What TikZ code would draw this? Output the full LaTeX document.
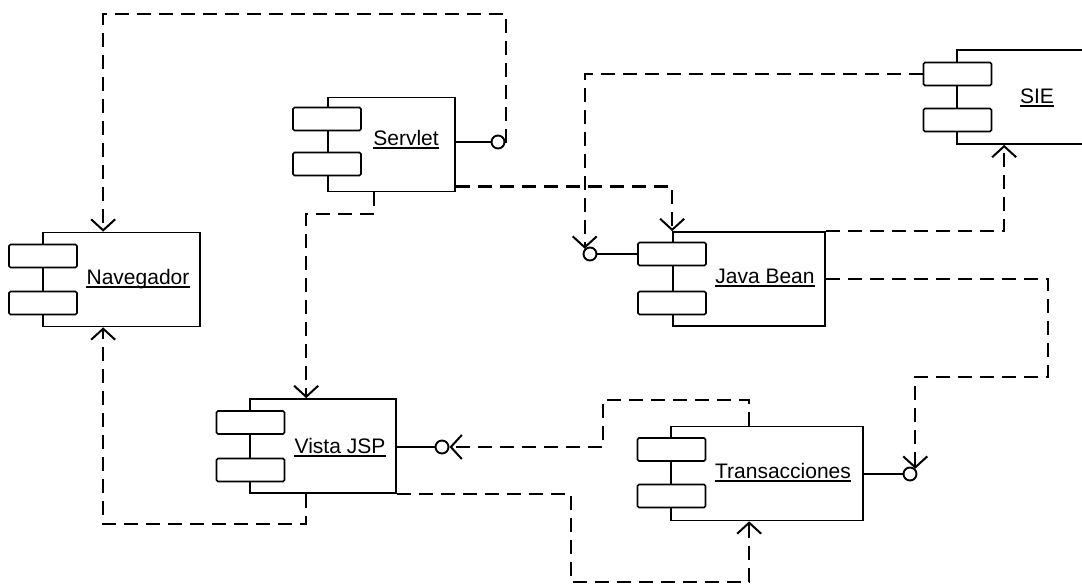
\documentclass[tikz,border=0pt]{standalone}
\usepackage{fontspec}
\setmainfont{Liberation Sans}
\usetikzlibrary{arrows.meta,calc}
\begin{document}
\begin{tikzpicture}[x=1pt,y=-1pt,
  body/.style={draw,line width=1.7pt,inner sep=0pt,minimum width=#1,minimum height=94pt},
  port/.style={draw,line width=1.7pt,fill=white,rounded corners=1.5pt,minimum width=68pt,minimum height=23pt,inner sep=0pt},
  lolli/.style={circle,draw,line width=1.9pt,fill=white,minimum size=13pt,inner sep=0pt},
  lbl/.style={font=\fontsize{21}{24}\selectfont,inner sep=0pt,anchor=base},
  uline/.style={line width=1.6pt},
  wire/.style={line width=1.7pt},
  dep/.style={line width=2.4pt,dash pattern=on 14pt off 8pt},
  arr/.style={-{Straight Barb[length=11pt,width=24pt,line width=2pt]}}
]
\useasboundingbox (0,0) rectangle (1082,587);
\clip (0,0) rectangle (1082,587);
\fill[white] (0,0) rectangle (1082,587);

% components
\node[body=157pt] (nav) at (121.5,279.5) {};
\node[port] (navP1) at (43,256) {};
\node[port] (navP2) at (43,303) {};
\node[lbl] (tnav) at (138,284) {Navegador};

\node[body=127pt] (srv) at (391.5,144.5) {};
\node[port] (srvP1) at (327,119) {};
\node[port] (srvP2) at (327,164) {};
\node[lbl] (tsrv) at (406,145) {Servlet};

\node[body=152pt] (jb) at (749,279) {};
\node[port] (jbP1) at (672,254) {};
\node[port] (jbP2) at (672,303) {};
\node[lbl] (tjb) at (765,283) {Java Bean};

\node[body=146pt] (vis) at (323,446) {};
\node[port] (visP1) at (250.5,422.5) {};
\node[port] (visP2) at (250.5,470) {};
\node[lbl] (tvis) at (340,453) {Vista JSP};

\node[body=192pt] (tra) at (767,473.5) {};
\node[port] (traP1) at (671.5,449.5) {};
\node[port] (traP2) at (671.5,496) {};
\node[lbl] (ttra) at (783,478) {Transacciones};

\node[body=140pt] (sie) at (1027,97) {};
\node[port] (sieP1) at (957.5,74) {};
\node[port] (sieP2) at (957.5,120) {};
\node[lbl] (tsie) at (1037,103) {SIE};

% underlines
\foreach \t in {tnav,tsrv,tjb,tvis,ttra,tsie}
  \draw[uline] ([yshift=-3pt]\t.base west) -- ([yshift=-3pt]\t.base east);

% lollipops
\node[lolli] (lS) at (498,142) {};
\draw[wire] (srv.east |- lS.west) -- (lS.west);
\node[lolli] (lJ) at (590,254) {};
\draw[wire] (lJ.east) -- (jbP1.west);
\node[lolli] (lV) at (442,447) {};
\draw[wire] (vis.east |- lV.west) -- (lV.west);
\node[lolli] (lT) at (910,474) {};
\draw[wire] (tra.east |- lT.west) -- (lT.west);

% bend points
\coordinate (b0) at (506,14);
\coordinate (h1) at (1048,377);
\coordinate (i1) at (603,400);
\coordinate (j1) at (571,582);

% dependencies
\draw[dep,arr] (lS.east) -| (b0) -| ([xshift=61pt]nav.north west);
\draw[dep,arr] ([xshift=57pt]vis.south west) -- ++(0,30) -| ([xshift=61pt]nav.south west);
\draw[dep,arr] ([xshift=47pt]srv.south west) -- ++(0,21.5) -| ([xshift=57pt]vis.north west);
\draw[dep,arr] ([yshift=6pt]srv.south east) -| (jb.north west);
\draw[dep,arr] (sieP1.west) -| (lJ.north west);
\draw[dep,arr] (jb.north east) -| ([xshift=48pt]sie.south west);
\draw[dep,arr] (jb.east) -| (h1) -| (lT.north east);
\draw[dep,arr] ([xshift=79pt]tra.north west) |- (i1) |- (lV.east);
\draw[dep,arr] (vis.south east) -| (j1) -| ([xshift=79pt]tra.south west);
\end{tikzpicture}
\end{document}
